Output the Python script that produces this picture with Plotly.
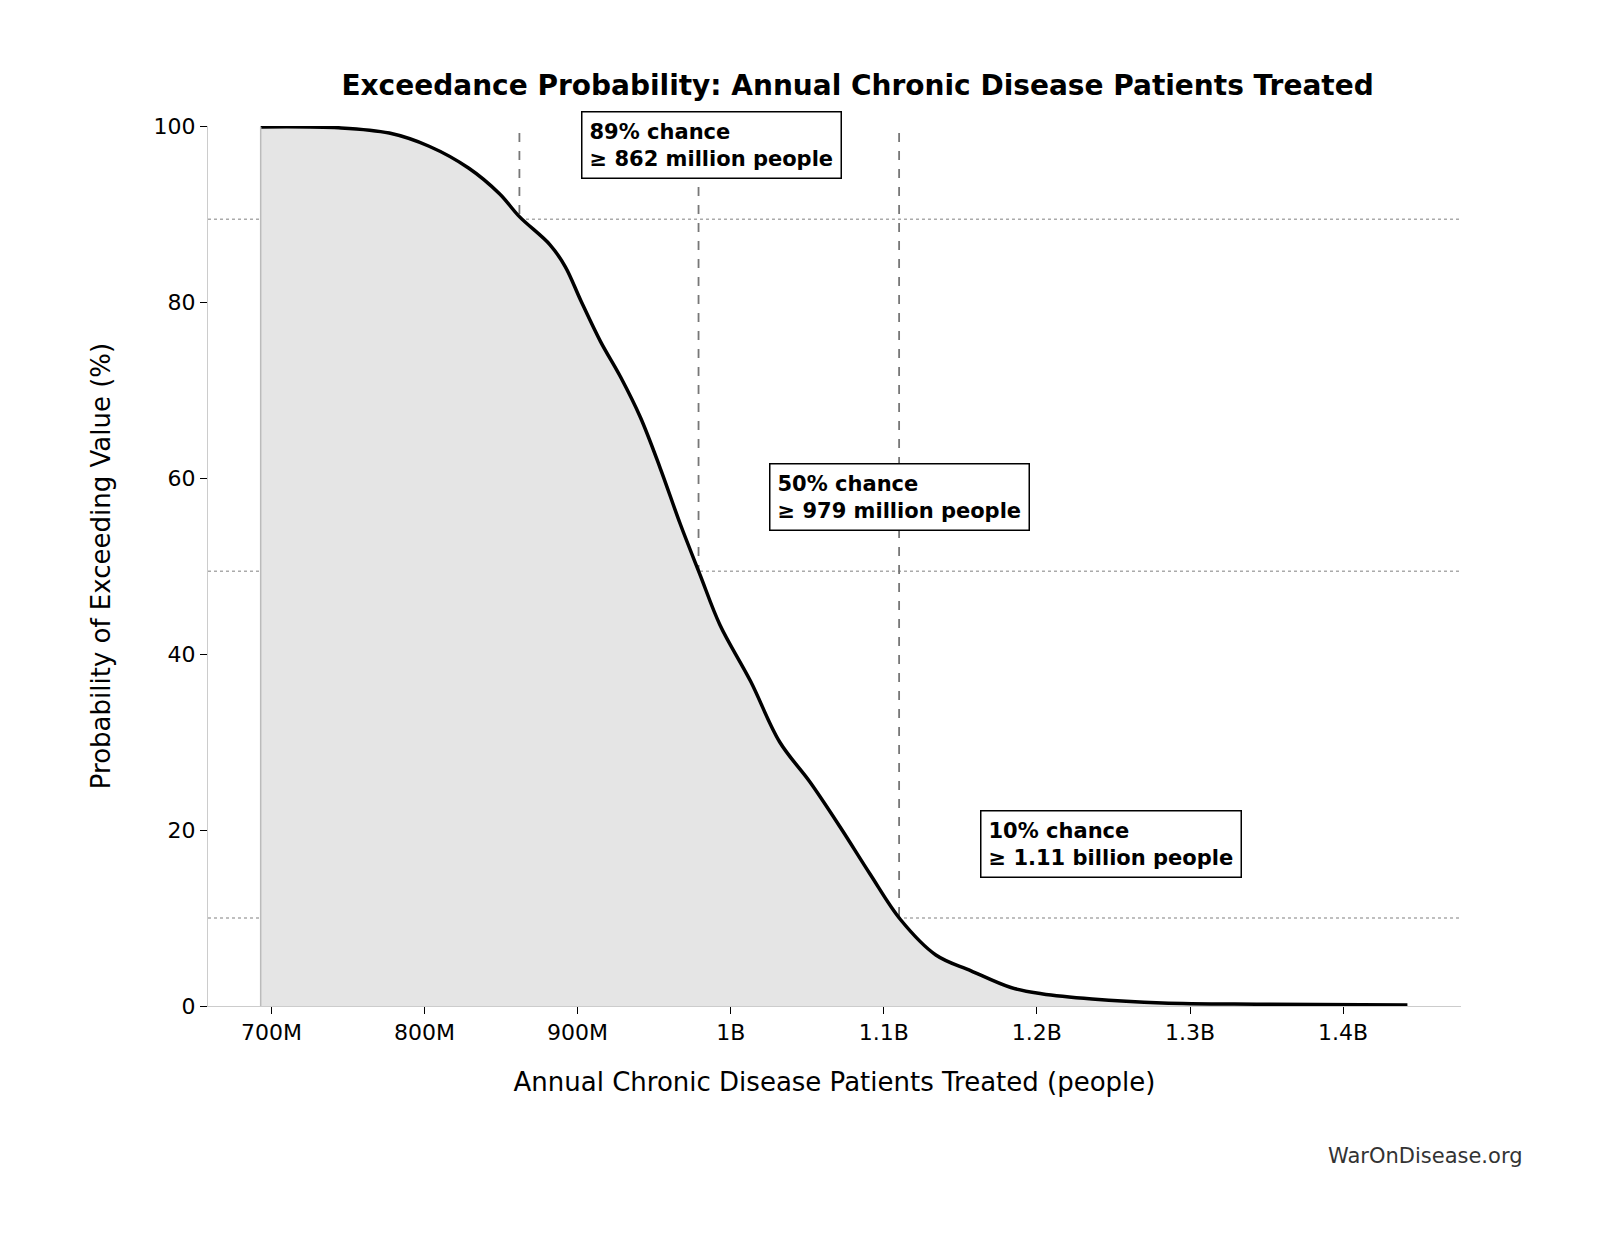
import plotly.graph_objects as go

values_m = [693,744,777,803,829,849,862,882,892,902,915,928,941,954,967,980,993,1013,1032,1052,1072,1091,1111,1134,1157,1183,1203,1236,1282,1347,1442]
prob = [99.9,99.8,99.2,97.7,95.2,92.3,89.7,86.5,84,80.2,75.5,71.5,66.9,61.1,54.8,49,43.3,36.9,30,25.4,20.2,15,9.8,5.8,4,2.1,1.4,0.8,0.35,0.2,0.1]
x = [v*1e6 for v in values_m]

tick_vals = [7e8,8e8,9e8,1e9,1.1e9,1.2e9,1.3e9,1.4e9]
tick_text = ["700M","800M","900M","1B","1.1B","1.2B","1.3B","1.4B"]
h_levels = [89.4, 49.4, 10]
v_levels = [862e6, 979e6, 1110e6]
ann_text = ["89% chance<br>≥ 862 million people","50% chance<br>≥ 979 million people","10% chance<br>≥ 1.11 billion people"]
ann_x = [902e6, 1025e6, 1163e6]
ann_y = [101.7, 61.7, 22.3]

fig = go.Figure()
fig.add_trace(go.Scatter(x=x, y=prob, mode="lines", fill="tozeroy",
    fillcolor="#e5e5e5", line=dict(color="black", width=3.5, shape="spline"), hoverinfo="skip"))

shapes = []
for h in h_levels:
    shapes.append(dict(type="line", xref="paper", x0=0, x1=1, y0=h, y1=h,
                       line=dict(color="#aaaaaa", width=1.5, dash="dot"), layer="below"))
for v in v_levels:
    shapes.append(dict(type="line", x0=v, x1=v, y0=0, y1=100,
                       line=dict(color="#777777", width=1.8, dash="dash"), layer="below"))
shapes.append(dict(type="line", x0=x[0], x1=x[0], y0=0, y1=prob[0],
                   line=dict(color="#bbbbbb", width=1.5)))

anns = []
for t, ax, ay in zip(ann_text, ann_x, ann_y):
    anns.append(dict(x=ax, y=ay / 100, yref="paper", text="<b>" + t + "</b>", showarrow=False,
                     xanchor="left", yanchor="top", align="left", bgcolor="white",
                     bordercolor="black", borderwidth=1.5, borderpad=7,
                     font=dict(size=21, color="black")))
anns.append(dict(xref="paper", yref="paper", x=1.05, y=-0.155, text="WarOnDisease.org", showarrow=False,
                 xanchor="right", yanchor="top", font=dict(size=21, color="#333333")))

fig.update_layout(
    width=1603, height=1233, paper_bgcolor="white", plot_bgcolor="white",
    font=dict(family="DejaVu Sans", size=22, color="black"),
    margin=dict(l=200, r=150, t=118, b=235),
    title=dict(text="<b>Exceedance Probability: Annual Chronic Disease Patients Treated</b>",
               x=0.53, xanchor="center", y=0.945, font=dict(size=28)),
    showlegend=False, shapes=shapes, annotations=anns,
    xaxis=dict(range=[658.6e6, 1477e6], tickvals=tick_vals, ticktext=tick_text, showgrid=False,
               zeroline=False, showline=True, linecolor="#cccccc", ticks="outside", ticklen=7,
               tickcolor="black", title=dict(text="Annual Chronic Disease Patients Treated (people)", standoff=28)),
    yaxis=dict(range=[0, 100], tickvals=[0,20,40,60,80,100], showgrid=False, zeroline=False,
               showline=True, linecolor="#cccccc", ticks="outside", ticklen=7, tickcolor="black",
               title=dict(text="Probability of Exceeding Value (%)", standoff=35)),
)
fig.write_html("out.html")
